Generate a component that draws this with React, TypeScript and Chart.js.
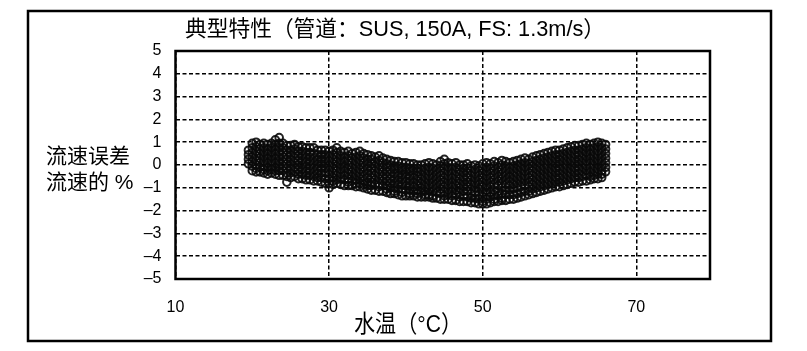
import { useEffect, useRef } from 'react';
import { Chart, registerables } from 'chart.js';

Chart.register(...registerables);

const chartTitle = '典型特性（管道：SUS, 150A, FS: 1.3m/s）';
const xAxisTitle = '水温（°C）';
const yAxisTitleLines = ['流速误差', '流速的 %'];
const xTickValues = [10, 30, 50, 70];
const xRange = [10, 79.6];
const yRange = [-5, 5];

// water temperature (°C) of each sample column
const waterTemp = [
  19.5, 20.0, 20.5, 21.0, 21.5, 22.0, 22.5, 23.0, 23.5, 24.0, 24.5, 25.0, 25.5, 26.0, 26.5, 27.0,
  27.5, 28.0, 28.5, 29.0, 29.5, 30.0, 30.5, 31.0, 31.5, 32.0, 32.5, 33.0, 33.5, 34.0, 34.5, 35.0,
  35.5, 36.0, 36.5, 37.0, 37.5, 38.0, 38.5, 39.0, 39.5, 40.0, 40.5, 41.0, 41.5, 42.0, 42.5, 43.0,
  43.5, 44.0, 44.5, 45.0, 45.5, 46.0, 46.5, 47.0, 47.5, 48.0, 48.5, 49.0, 49.5, 50.0, 50.5, 51.0,
  51.5, 52.0, 52.5, 53.0, 53.5, 54.0, 54.5, 55.0, 55.5, 56.0, 56.5, 57.0, 57.5, 58.0, 58.5, 59.0,
  59.5, 60.0, 60.5, 61.0, 61.5, 62.0, 62.5, 63.0, 63.5, 64.0, 64.5, 65.0, 65.5, 66.0,
];

// flow-rate error (% of flow) samples read at each temperature column
const flowError: number[][] = [
  [0.65, 0.45, 0.25, 0.05],
  [0.95, 0.75, 0.55, 0.35, 0.15, -0.05, -0.25],
  [1.0, 0.8, 0.6, 0.4, 0.2, 0.0, -0.15, -0.3],
  [0.9, 0.7, 0.5, 0.3, 0.1, -0.1, -0.3],
  [0.95, 0.75, 0.55, 0.35, 0.15, -0.05, -0.2, -0.35],
  [0.9, 0.7, 0.5, 0.3, 0.1, -0.1, -0.25, -0.4],
  [0.95, 0.75, 0.55, 0.35, 0.15, -0.05, -0.2, -0.35],
  [1.1, 0.9, 0.7, 0.5, 0.3, 0.1, -0.1, -0.25, -0.4],
  [1.2, 0.95, 0.75, 0.55, 0.35, 0.15, -0.05, -0.25, -0.45],
  [0.95, 0.75, 0.55, 0.35, 0.15, -0.05, -0.25, -0.45],
  [0.85, 0.65, 0.45, 0.25, 0.05, -0.15, -0.35, -0.5, -0.75],
  [0.85, 0.65, 0.45, 0.25, 0.05, -0.15, -0.35, -0.55],
  [0.9, 0.7, 0.5, 0.3, 0.1, -0.1, -0.3, -0.5],
  [0.8, 0.6, 0.4, 0.2, 0.0, -0.2, -0.4, -0.6],
  [0.8, 0.6, 0.4, 0.2, 0.0, -0.2, -0.4, -0.6],
  [0.75, 0.55, 0.35, 0.15, -0.05, -0.25, -0.45, -0.65],
  [0.75, 0.55, 0.35, 0.15, -0.05, -0.25, -0.45, -0.65],
  [0.75, 0.5, 0.3, 0.1, -0.1, -0.3, -0.5, -0.7],
  [0.65, 0.45, 0.25, 0.05, -0.15, -0.35, -0.55, -0.7],
  [0.65, 0.45, 0.25, 0.05, -0.15, -0.35, -0.55, -0.75],
  [0.65, 0.45, 0.25, 0.05, -0.15, -0.35, -0.6, -0.8],
  [0.6, 0.4, 0.2, 0.0, -0.2, -0.4, -0.6, -0.8, -1.0],
  [0.65, 0.45, 0.25, 0.05, -0.15, -0.35, -0.55, -0.7, -0.85],
  [0.75, 0.55, 0.35, 0.15, -0.05, -0.25, -0.45, -0.65, -0.8],
  [0.6, 0.4, 0.2, 0.0, -0.2, -0.4, -0.6, -0.85],
  [0.55, 0.35, 0.15, -0.05, -0.25, -0.45, -0.65, -0.9],
  [0.6, 0.4, 0.2, 0.0, -0.2, -0.4, -0.6, -0.75, -0.9],
  [0.5, 0.3, 0.1, -0.1, -0.3, -0.5, -0.7, -0.9],
  [0.55, 0.35, 0.15, -0.05, -0.25, -0.45, -0.65, -0.8, -0.95],
  [0.6, 0.4, 0.2, 0.0, -0.2, -0.4, -0.6, -0.8, -0.95],
  [0.5, 0.3, 0.1, -0.1, -0.3, -0.5, -0.7, -0.85, -1.0],
  [0.45, 0.25, 0.05, -0.15, -0.35, -0.55, -0.75, -0.9, -1.05],
  [0.4, 0.25, 0.05, -0.15, -0.35, -0.55, -0.75, -0.9, -1.1],
  [0.35, 0.15, -0.05, -0.25, -0.45, -0.65, -0.85, -1.1],
  [0.4, 0.2, 0.0, -0.2, -0.4, -0.6, -0.8, -0.95, -1.15],
  [0.3, 0.1, -0.1, -0.3, -0.5, -0.7, -0.9, -1.15],
  [0.25, 0.05, -0.1, -0.3, -0.5, -0.7, -0.9, -1.05, -1.2],
  [0.2, 0.0, -0.2, -0.4, -0.6, -0.8, -1.0, -1.25],
  [0.15, -0.05, -0.2, -0.4, -0.6, -0.8, -1.0, -1.15, -1.25],
  [0.15, -0.05, -0.25, -0.45, -0.65, -0.85, -1.05, -1.3],
  [0.1, -0.1, -0.25, -0.45, -0.65, -0.85, -1.05, -1.2, -1.35],
  [0.1, -0.1, -0.3, -0.5, -0.7, -0.9, -1.1, -1.35],
  [0.05, -0.15, -0.3, -0.5, -0.7, -0.9, -1.1, -1.25, -1.35],
  [0.05, -0.15, -0.35, -0.55, -0.75, -0.95, -1.15, -1.35],
  [0.0, -0.15, -0.3, -0.5, -0.7, -0.9, -1.1, -1.25, -1.4],
  [0.0, -0.2, -0.4, -0.6, -0.8, -1.0, -1.2, -1.4],
  [0.05, -0.15, -0.35, -0.55, -0.75, -0.95, -1.15, -1.3, -1.4],
  [0.1, -0.1, -0.3, -0.5, -0.7, -0.9, -1.1, -1.3, -1.4],
  [0.05, -0.15, -0.35, -0.55, -0.75, -0.95, -1.15, -1.35, -1.45],
  [0.0, -0.2, -0.4, -0.6, -0.8, -1.0, -1.2, -1.45],
  [0.15, -0.05, -0.25, -0.45, -0.65, -0.85, -1.05, -1.25, -1.5],
  [0.25, 0.05, -0.15, -0.35, -0.55, -0.75, -0.95, -1.15, -1.35, -1.5],
  [0.1, -0.1, -0.3, -0.5, -0.7, -0.9, -1.1, -1.3, -1.5],
  [0.05, -0.15, -0.35, -0.55, -0.75, -0.95, -1.15, -1.35, -1.55],
  [0.1, -0.1, -0.3, -0.5, -0.7, -0.9, -1.1, -1.3, -1.55],
  [0.0, -0.2, -0.4, -0.6, -0.8, -1.0, -1.2, -1.4, -1.6],
  [0.0, -0.15, -0.35, -0.55, -0.75, -0.95, -1.15, -1.35, -1.6],
  [0.05, -0.15, -0.35, -0.55, -0.75, -0.95, -1.15, -1.4, -1.6],
  [-0.05, -0.25, -0.45, -0.65, -0.85, -1.05, -1.25, -1.45, -1.65],
  [0.0, -0.2, -0.4, -0.6, -0.8, -1.0, -1.2, -1.45, -1.65],
  [-0.05, -0.25, -0.45, -0.65, -0.85, -1.05, -1.3, -1.5, -1.7],
  [0.05, -0.15, -0.35, -0.55, -0.75, -0.95, -1.2, -1.4, -1.6, -1.7],
  [0.1, -0.1, -0.3, -0.5, -0.7, -0.9, -1.1, -1.3, -1.5, -1.7],
  [0.05, -0.15, -0.35, -0.55, -0.75, -0.95, -1.2, -1.4, -1.65],
  [0.15, -0.05, -0.25, -0.45, -0.65, -0.85, -1.1, -1.3, -1.5, -1.6],
  [0.1, -0.1, -0.3, -0.5, -0.7, -0.9, -1.15, -1.35, -1.6],
  [0.2, 0.0, -0.2, -0.4, -0.6, -0.8, -1.0, -1.25, -1.45, -1.55],
  [0.15, -0.05, -0.25, -0.45, -0.65, -0.85, -1.1, -1.3, -1.55],
  [0.1, -0.1, -0.3, -0.5, -0.7, -0.9, -1.1, -1.3, -1.5],
  [0.15, -0.05, -0.25, -0.45, -0.65, -0.85, -1.05, -1.3, -1.5],
  [0.2, 0.0, -0.2, -0.4, -0.6, -0.8, -1.0, -1.25, -1.45],
  [0.25, 0.05, -0.15, -0.35, -0.55, -0.75, -0.95, -1.2, -1.4],
  [0.3, 0.1, -0.1, -0.3, -0.5, -0.7, -0.9, -1.15, -1.35],
  [0.25, 0.05, -0.15, -0.35, -0.55, -0.75, -0.95, -1.15, -1.3],
  [0.35, 0.15, -0.05, -0.25, -0.45, -0.65, -0.85, -1.05, -1.25],
  [0.4, 0.2, 0.0, -0.2, -0.4, -0.6, -0.8, -1.0, -1.2],
  [0.45, 0.25, 0.05, -0.15, -0.35, -0.55, -0.75, -0.95, -1.15],
  [0.5, 0.3, 0.1, -0.1, -0.3, -0.5, -0.7, -0.9, -1.1],
  [0.55, 0.35, 0.15, -0.05, -0.25, -0.45, -0.65, -0.85, -1.05],
  [0.6, 0.4, 0.2, 0.0, -0.2, -0.4, -0.6, -0.8, -1.0],
  [0.65, 0.45, 0.25, 0.05, -0.15, -0.35, -0.55, -0.75, -0.95],
  [0.65, 0.45, 0.25, 0.05, -0.15, -0.35, -0.55, -0.75, -0.95],
  [0.7, 0.5, 0.3, 0.1, -0.1, -0.3, -0.5, -0.7, -0.9],
  [0.75, 0.55, 0.35, 0.15, -0.05, -0.25, -0.45, -0.65, -0.85],
  [0.8, 0.6, 0.4, 0.2, 0.0, -0.2, -0.4, -0.6, -0.8],
  [0.85, 0.65, 0.45, 0.25, 0.05, -0.15, -0.35, -0.55, -0.75],
  [0.85, 0.65, 0.45, 0.25, 0.05, -0.15, -0.35, -0.55, -0.75],
  [0.9, 0.7, 0.5, 0.3, 0.1, -0.1, -0.3, -0.5, -0.7],
  [0.95, 0.75, 0.55, 0.35, 0.15, -0.05, -0.25, -0.45, -0.7],
  [0.9, 0.7, 0.5, 0.3, 0.1, -0.1, -0.3, -0.5, -0.65],
  [0.95, 0.75, 0.55, 0.35, 0.15, -0.05, -0.25, -0.45, -0.6],
  [1.0, 0.8, 0.6, 0.4, 0.2, 0.0, -0.2, -0.4, -0.6],
  [0.95, 0.75, 0.55, 0.35, 0.15, -0.05, -0.25, -0.4, -0.55],
  [0.9, 0.7, 0.5, 0.3, 0.1, -0.1, -0.3],
];

const FONT = "'Liberation Sans', Arial, 'Noto Sans CJK SC', sans-serif";

const framePlugin = {
  id: 'frame',
  afterDraw(chart: any) {
    const { ctx, chartArea } = chart;
    ctx.save();
    ctx.strokeStyle = '#000';
    ctx.lineWidth = 2.5;
    ctx.strokeRect(28, 11, 743, 330);
    ctx.lineWidth = 2.5;
    ctx.strokeRect(chartArea.left, chartArea.top, chartArea.right - chartArea.left, chartArea.bottom - chartArea.top);
    ctx.fillStyle = '#000';
    ctx.textBaseline = 'middle';
    ctx.font = `22px ${FONT}`;
    ctx.textAlign = 'left';
    ctx.fillText(chartTitle, 185, 30, 420);
    ctx.font = `24px ${FONT}`;
    ctx.fillText(xAxisTitle, 354, 325, 108);
    ctx.font = `21px ${FONT}`;
    ctx.fillText(yAxisTitleLines[0], 46, 157);
    ctx.fillText(yAxisTitleLines[1], 46, 183);
    ctx.restore();
  },
};

export default function App() {
  const ref = useRef<HTMLCanvasElement>(null);
  useEffect(() => {
    const points = waterTemp.flatMap((t, i) => flowError[i].map((e) => ({ x: t, y: e })));
    const chart = new Chart(ref.current!, {
      type: 'scatter',
      data: {
        datasets: [
          {
            data: points,
            pointRadius: 3.8,
            pointBorderWidth: 2,
            pointBorderColor: 'rgba(10,10,10,0.9)',
            pointBackgroundColor: 'rgba(0,0,0,0)',
          },
        ],
      },
      options: {
        responsive: false,
        animation: false,
        events: [],
        layout: { padding: { left: 0, top: 51, right: 97, bottom: 0 } },
        plugins: { legend: { display: false }, tooltip: { enabled: false }, title: { display: false } },
        scales: {
          x: {
            type: 'linear',
            min: xRange[0],
            max: xRange[1],
            afterBuildTicks: (s: any) => {
              s.ticks = xTickValues.map((v) => ({ value: v }));
            },
            afterFit: (s: any) => {
              s.height = 72;
            },
            grid: { color: '#000', lineWidth: 1.5, drawTicks: false },
            border: { display: false, dash: [4, 2.5] },
            ticks: { color: '#000', font: { family: FONT, size: 16 }, padding: 19, maxRotation: 0 },
          },
          y: {
            type: 'linear',
            min: yRange[0],
            max: yRange[1],
            afterFit: (s: any) => {
              s.width = 175.5;
            },
            grid: { color: '#000', lineWidth: 1.5, drawTicks: false },
            border: { display: false, dash: [4, 2.5] },
            ticks: {
              stepSize: 1,
              color: '#000',
              font: { family: FONT, size: 16 },
              padding: 14,
              callback: (v: any) => (v < 0 ? '–' + Math.abs(v) : String(v)),
            },
          },
        },
      },
      plugins: [framePlugin],
    });
    return () => chart.destroy();
  }, []);
  return (
    <div style={{ position: 'absolute', left: 0, top: 0, width: 807, height: 351, background: '#fff' }}>
      <canvas ref={ref} width={807} height={351} />
    </div>
  );
}
